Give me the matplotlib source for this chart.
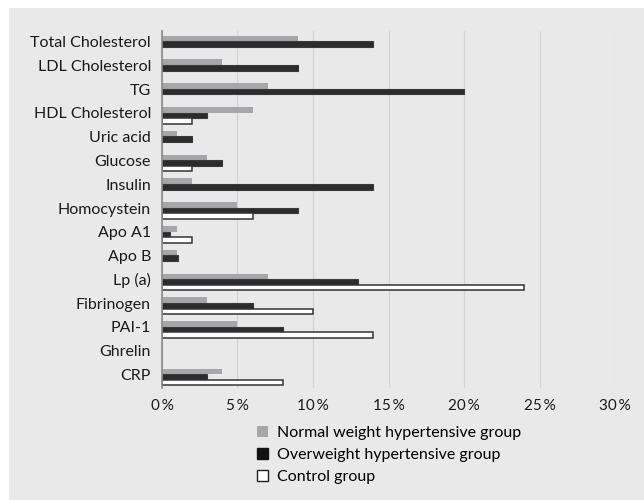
import matplotlib
matplotlib.use("Agg")
import matplotlib.pyplot as plt
import matplotlib.transforms as mtransforms
import numpy as np
from matplotlib.patches import Rectangle, Patch

categories = ["Total Cholesterol", "LDL Cholesterol", "TG", "HDL Cholesterol", "Uric acid",
              "Glucose", "Insulin", "Homocystein", "Apo A1", "Apo B", "Lp (a)",
              "Fibrinogen", "PAI-1", "Ghrelin", "CRP"]
normal_weight = [9, 4, 7, 6, 1, 3, 2, 5, 1, 1, 7, 3, 5, 0, 4]
overweight = [14, 9, 20, 3, 2, 4, 14, 9, 0.55, 1.05, 13, 6, 8, 0, 3]
control = [0, 0, 0, 2, 0, 2, 0, 6, 2, 0, 24, 10, 14, 0, 8]
xticks = [0, 5, 10, 15, 20, 25, 30]
xtick_labels = ["0\u2009%", "5\u2009%", "10\u2009%", "15\u2009%", "20\u2009%", "25\u2009%", "30\u2009%"]
series_names = ["Normal weight hypertensive group", "Overweight hypertensive group", "Control group"]

plt.rcParams['font.family'] = ['Lato', 'DejaVu Sans']

BG = "#e9e9ea"
fig = plt.figure(figsize=(6.44, 5.0), dpi=100)
fig.patch.set_facecolor("white")
fig.patches.append(Rectangle((9/644, 0), 1 - 9/644, 1 - 8/500, transform=fig.transFigure,
                             facecolor=BG, edgecolor="none", zorder=-10))

ax = fig.add_axes([162/644, 1 - 388/500, (615 - 162)/644, (388 - 31)/500])
ax.set_facecolor(BG)


def nz(vals):
    return [v if v > 0 else np.nan for v in vals]


y = np.arange(len(categories))
h = 0.235
ax.barh(y - h, nz(normal_weight), height=h, color="#a7a7a9", edgecolor="none", zorder=3)
ax.barh(y, nz(overweight), height=h, color="#2c2c2c", edgecolor="#3a3a3a", linewidth=0.8, zorder=3)
ax.barh(y + h, nz(control), height=h, color="white", edgecolor="#333333", linewidth=1.1, zorder=3)

ax.set_xlim(0, 30)
ax.set_ylim(14.46, -0.55)
ax.set_yticks(y)
ax.set_yticklabels(categories, fontsize=11.5, color="#1a1a1a")
ax.set_xticks(xticks)
ax.set_xticklabels(xtick_labels, fontsize=11, color="#1a1a1a")
ax.tick_params(axis="both", length=0)
ax.tick_params(axis="y", pad=8)
ax.tick_params(axis="x", pad=8)
shift = mtransforms.ScaledTranslation(0, 2.5/100, fig.dpi_scale_trans)
for lbl in ax.get_yticklabels():
    lbl.set_transform(lbl.get_transform() + shift)
ax.grid(axis="x", color="#d3d3d6", linewidth=0.9, zorder=1)
for s in ["top", "right", "bottom"]:
    ax.spines[s].set_visible(False)
ax.spines["left"].set_color("#8a8a8a")
ax.spines["left"].set_linewidth(1.2)
ax.spines["left"].set_zorder(4)

handles = [Patch(facecolor="#a7a7a9", edgecolor="none"),
           Patch(facecolor="#111111", edgecolor="#111111"),
           Patch(facecolor="white", edgecolor="#222222", linewidth=1.0)]
fig.legend(handles, series_names, loc="upper left", bbox_to_anchor=(257/644, 1 - 426/500),
           frameon=False, fontsize=11.5, handlelength=0.7, handleheight=0.7,
           handletextpad=0.55, labelspacing=0.48, borderaxespad=0, borderpad=0)

fig.savefig("out.png", dpi=100, facecolor=fig.get_facecolor())
